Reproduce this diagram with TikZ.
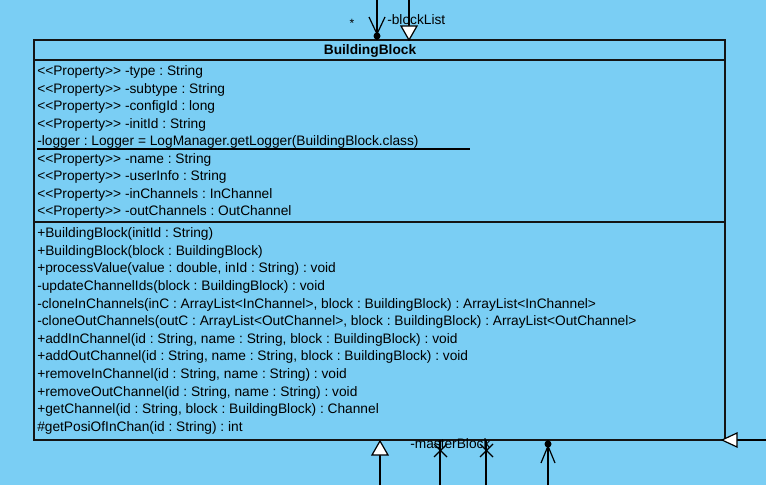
\documentclass[tikz,border=0pt]{standalone}
\usepackage{fontspec}
\setmainfont[Ligatures=TeXOff]{Liberation Sans}
\definecolor{bg}{RGB}{122,206,244}
\definecolor{edge}{RGB}{20,20,20}
\frenchspacing
\tikzset{
  txt/.style={anchor=base west, inner sep=0pt, font=\fontsize{10.3}{12}\selectfont},
  cls/.style={draw=edge, line width=1.1pt, fill=bg},
  conn/.style={draw=black, line width=0.9pt},
  hollow/.style={draw=black, fill=white, line width=0.9pt, line join=miter},
}
\begin{document}
\begin{tikzpicture}[x=0.75pt,y=-0.75pt]
\fill[bg] (0,0) rectangle (766,485);
\useasboundingbox (0,0) rectangle (766,485);
% class box
\node[cls, minimum width=691*0.75pt, minimum height=400*0.75pt, inner sep=0pt] (box) at (379.5,240) {};
\draw[edge, line width=1.1pt] (box.west |- 0,60) coordinate (h1) -- (box.east |- 0,60) coordinate (h2);
\draw[edge, line width=1.1pt] (box.west |- 0,222) coordinate (s1) -- (box.east |- 0,222) coordinate (s2);
\node[font=\fontsize{10.3}{12}\selectfont\bfseries, inner sep=0pt] (title) at (370,50.5) {BuildingBlock};
% attributes
\foreach \t [count=\i from 0] in {%
  {<<Property>> -type : String},
  {<<Property>> -subtype : String},
  {<<Property>> -configId : long},
  {<<Property>> -initId : String},
  {-logger : Logger = LogManager.getLogger(BuildingBlock.class)},
  {<<Property>> -name : String},
  {<<Property>> -userInfo : String},
  {<<Property>> -inChannels : InChannel},
  {<<Property>> -outChannels : OutChannel}}
  \node[txt] (a\i) at (37,{75.5+17.5*\i}) {\t};
\coordinate (u1) at (37,149);
\coordinate (u2) at (470,149);
\draw[black, line width=0.8pt] (u1) -- (u2);
% methods
\foreach \t [count=\i from 0] in {%
  {+BuildingBlock(initId : String)},
  {+BuildingBlock(block : BuildingBlock)},
  {+processValue(value : double, inId : String) : void},
  {-updateChannelIds(block : BuildingBlock) : void},
  {-cloneInChannels(inC : ArrayList<InChannel>, block : BuildingBlock) : ArrayList<InChannel>},
  {-cloneOutChannels(outC : ArrayList<OutChannel>, block : BuildingBlock) : ArrayList<OutChannel>},
  {+addInChannel(id : String, name : String, block : BuildingBlock) : void},
  {+addOutChannel(id : String, name : String, block : BuildingBlock) : void},
  {+removeInChannel(id : String, name : String) : void},
  {+removeOutChannel(id : String, name : String) : void},
  {+getChannel(id : String, block : BuildingBlock) : Channel},
  {\#getPosiOfInChan(id : String) : int}}
  \node[txt] (m\i) at (37,{237.5+17.64*\i}) {\t};
% top connectors
\coordinate (t1) at (377,0);
\coordinate (t1e) at (377,40);
\draw[conn] (t1) -- (t1e);
\fill[black] (377,36) circle (3.5);
\draw[conn] (369,17) -- (377,34) -- (385,17);
\node[font=\fontsize{9}{11}\selectfont, inner sep=0pt] (star) at (352,23) {*};
\node[font=\fontsize{10.3}{12}\selectfont, anchor=base west, inner sep=0pt] (bl) at (387,25) {-blockList};
\coordinate (t2) at (409,0);
\coordinate (t2e) at (409,26);
\draw[conn] (t2) -- (t2e);
\draw[hollow] (401,26) -- (417,26) -- (409,40) -- cycle;
% bottom connectors
\coordinate (b1) at (380,485);
\coordinate (b1e) at (380,455);
\draw[conn] (b1) -- (b1e);
\draw[hollow] (372,455) -- (388,455) -- (380,441) -- cycle;
\coordinate (b2) at (440,485);
\coordinate (b2e) at (440,440);
\draw[conn] (b2) -- (b2e);
\draw[conn] (434,444) -- (447,457) (447,444) -- (434,457);
\coordinate (b3) at (486,485);
\coordinate (b3e) at (486,440);
\draw[conn] (b3) -- (b3e);
\draw[conn] (480,444) -- (493,457) (493,444) -- (480,457);
\node[font=\fontsize{10.3}{12}\selectfont, anchor=base west, inner sep=0pt] (mb) at (410,448) {-masterBlock};
\coordinate (b4) at (548,485);
\coordinate (b4e) at (548,440);
\draw[conn] (b4) -- (b4e);
\fill[black] (548,444) circle (3.5);
\draw[conn] (541,463) -- (548,446) -- (555,463);
% right connector
\coordinate (r1) at (766,440);
\coordinate (r1e) at (737,440);
\draw[conn] (r1) -- (r1e);
\draw[hollow] (737,433) -- (737,447) -- (722,440) -- cycle;
\end{tikzpicture}
\end{document}
